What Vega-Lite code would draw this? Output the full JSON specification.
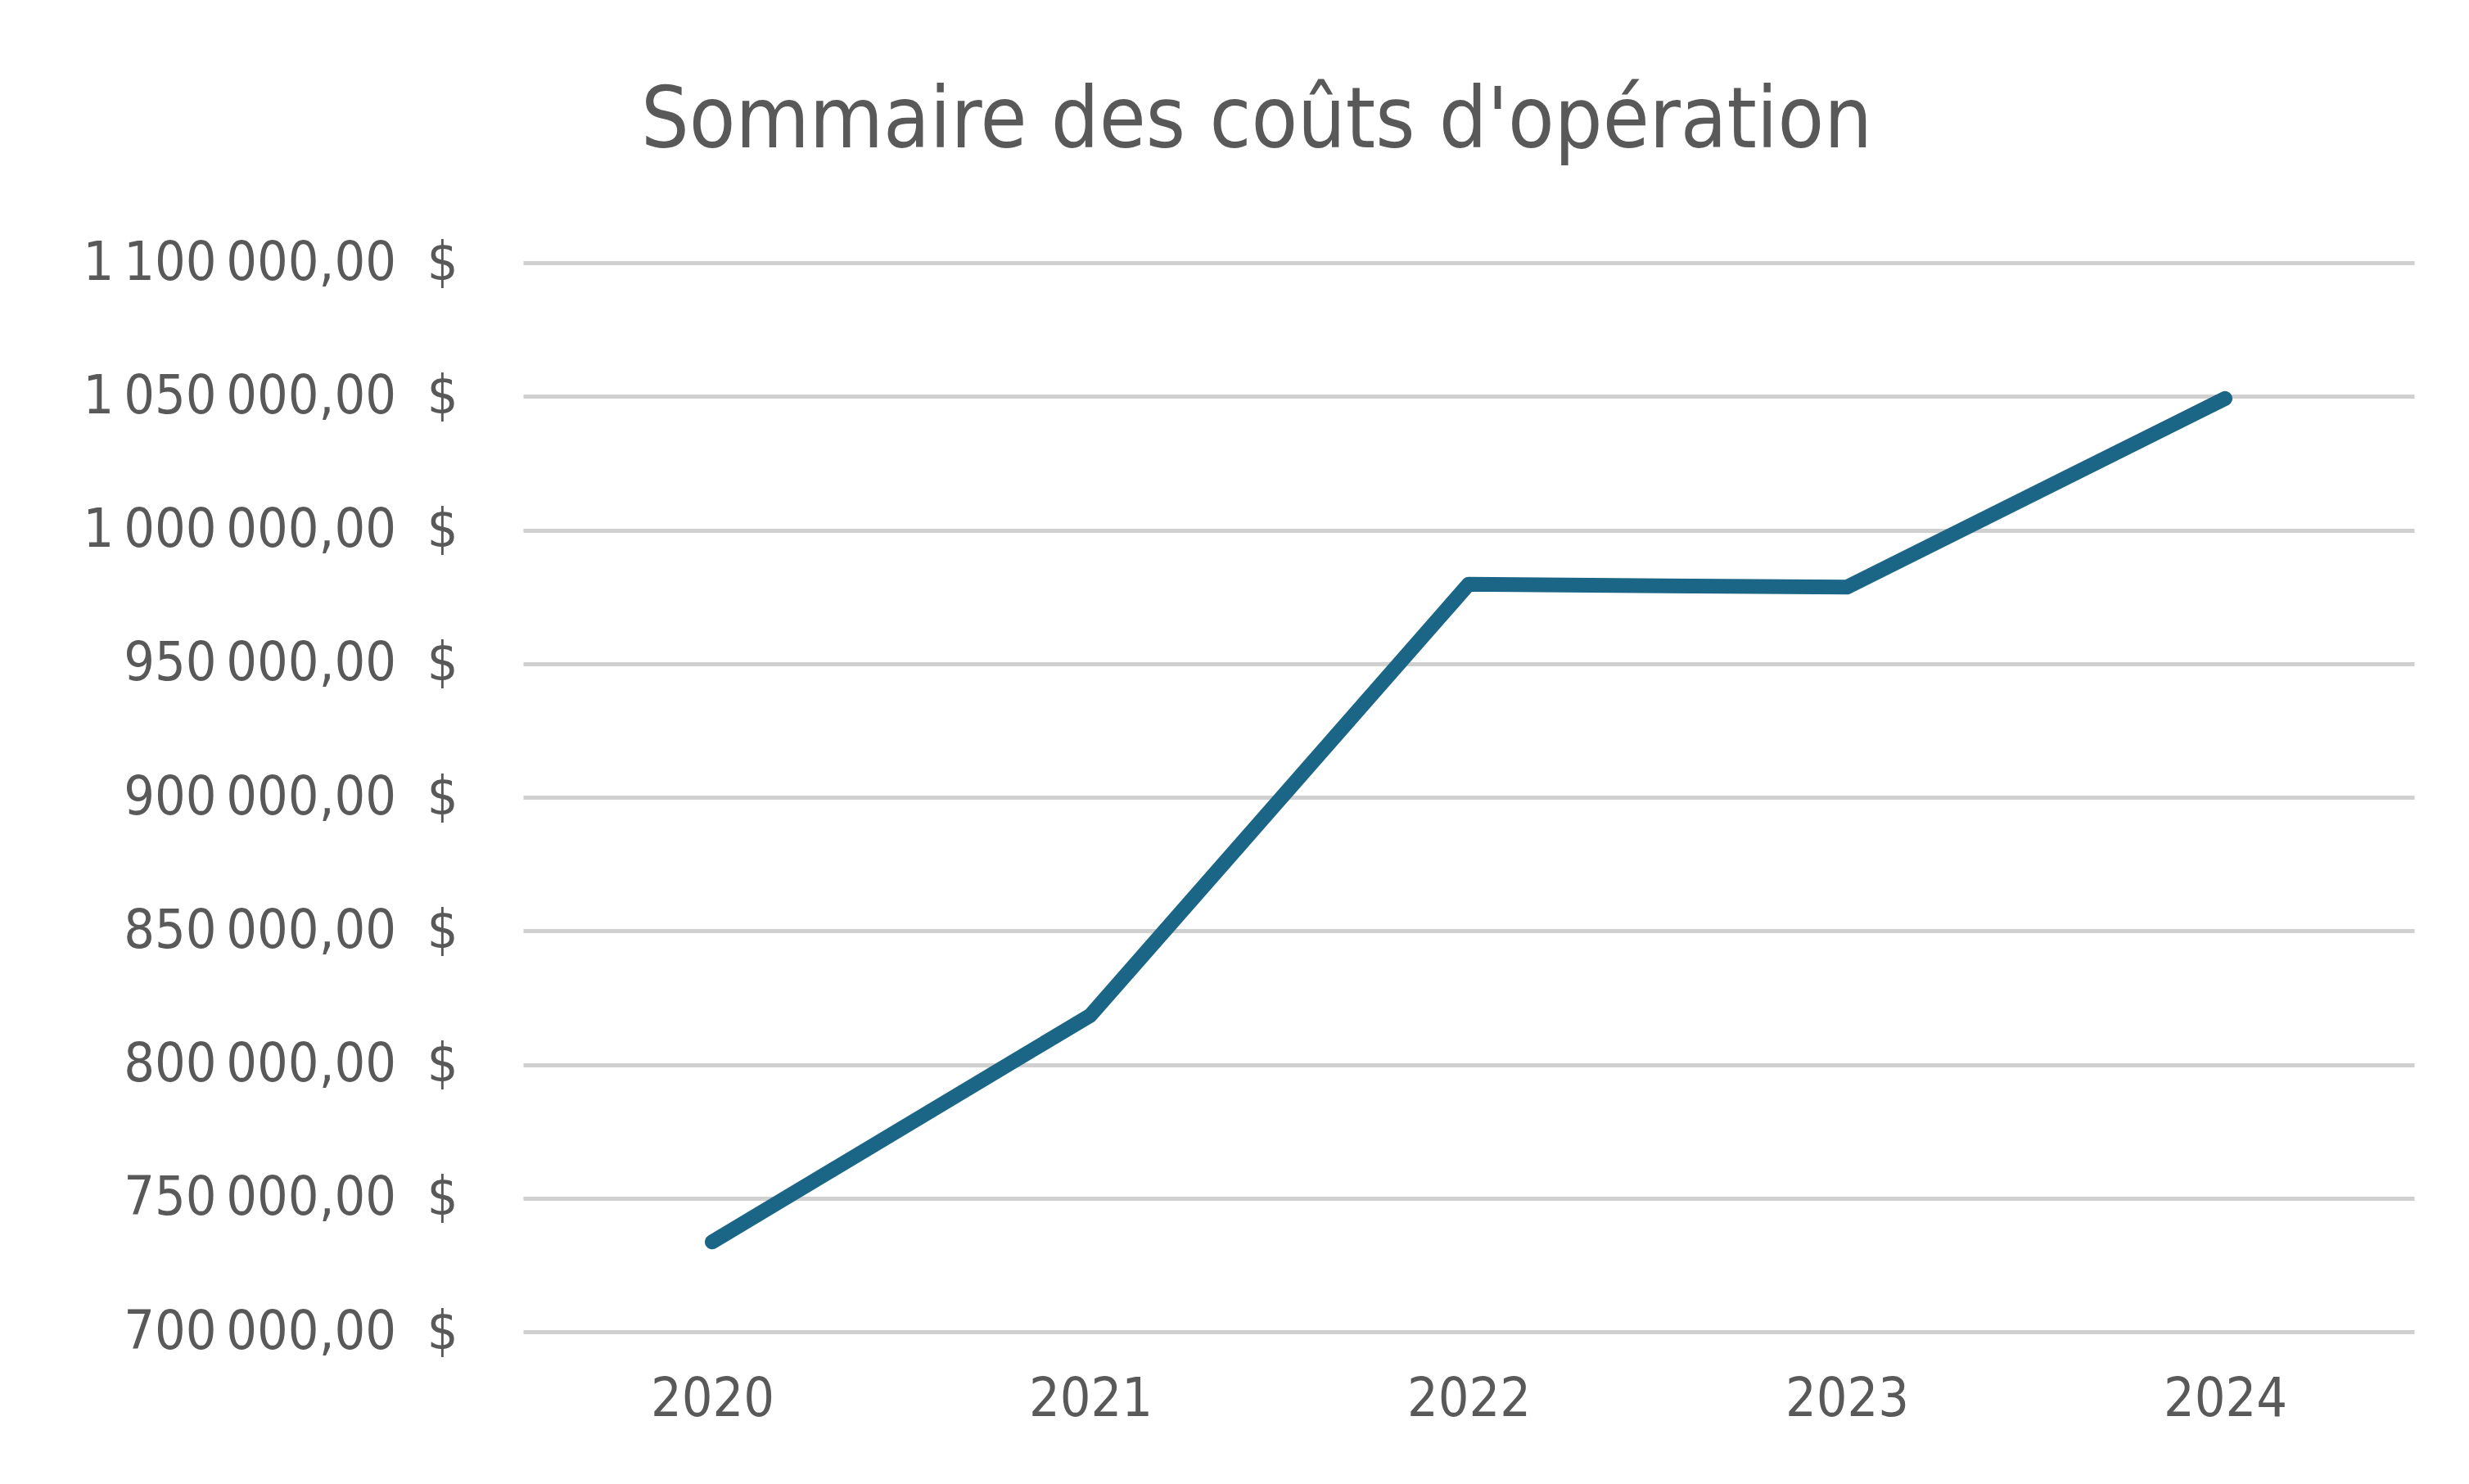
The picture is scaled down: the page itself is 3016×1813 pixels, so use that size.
{
  "$schema": "https://vega.github.io/schema/vega-lite/v6.json",
  "width": 2310,
  "height": 1306,
  "autosize": {"type": "none"},
  "padding": {"left": 639, "top": 321, "right": 67, "bottom": 186},
  "background": "white",
  "config": {
    "locale": {"number": {"decimal": ",", "thousands": "\u202f", "grouping": [3], "currency": ["", "\u00a0\u00a0$"]}},
    "view": {"stroke": null},
    "font": "Liberation Sans Narrow, DejaVu Sans Condensed, sans-serif"
  },
  "title": {
    "text": "Sommaire des coûts d'opération",
    "fontSize": 103,
    "fontWeight": "normal",
    "color": "#595959",
    "anchor": "middle",
    "dx": -259,
    "offset": 86
  },
  "data": {
    "values": [
      {"annee": "2020", "cout": 733600},
      {"annee": "2021", "cout": 818400},
      {"annee": "2022", "cout": 979700},
      {"annee": "2023", "cout": 978600},
      {"annee": "2024", "cout": 1049200}
    ]
  },
  "mark": {"type": "line", "color": "#1b6686", "strokeWidth": 18, "strokeCap": "round", "strokeJoin": "round"},
  "encoding": {
    "x": {
      "field": "annee",
      "type": "ordinal",
      "scale": {"type": "point", "padding": 0.5},
      "axis": {"title": null, "labelAngle": 0, "domain": false, "ticks": false, "grid": false, "labelFontSize": 66, "labelColor": "#595959", "labelPadding": 50}
    },
    "y": {
      "field": "cout",
      "type": "quantitative",
      "scale": {"domain": [700000, 1100000], "nice": false, "zero": false},
      "axis": {
        "title": null,
        "values": [700000, 750000, 800000, 850000, 900000, 950000, 1000000, 1050000, 1100000],
        "format": "$,.2f",
        "domain": false,
        "ticks": false,
        "gridColor": "#d0d0d0",
        "gridWidth": 5,
        "labelFontSize": 66,
        "labelLimit": 0,
        "labelColor": "#595959",
        "labelPadding": 80
      }
    }
  }
}
